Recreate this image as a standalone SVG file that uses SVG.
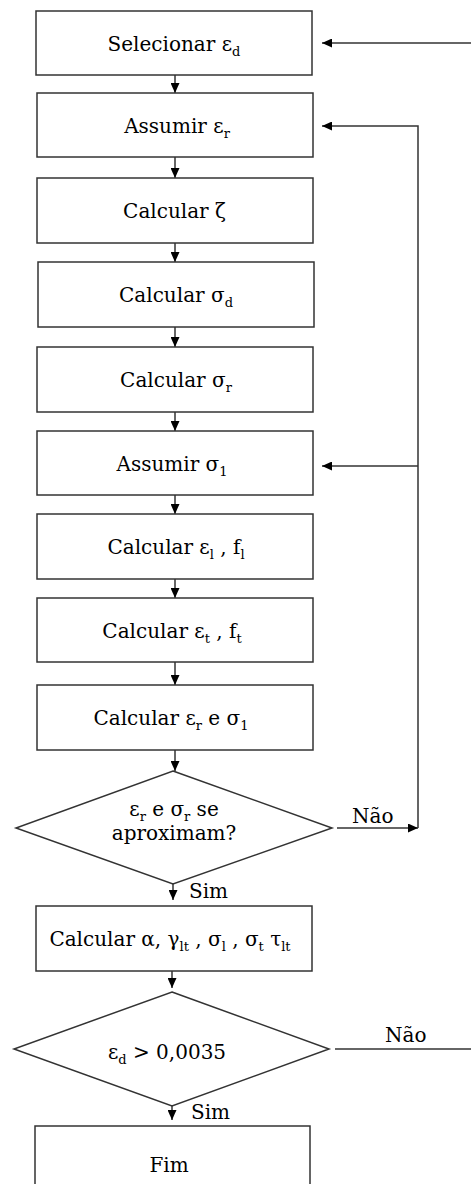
<svg xmlns="http://www.w3.org/2000/svg" width="471" height="1184" viewBox="0 0 471 1184">
<style>
.box{fill:#fff;stroke:#333;stroke-width:1.5}
.t{font-family:'DejaVu Serif','Liberation Serif',serif;font-size:20px;fill:#000;text-anchor:middle}
.l{font-family:'DejaVu Serif','Liberation Serif',serif;font-size:20px;fill:#000}
.s{font-size:13px}
.c{fill:none;stroke:#333;stroke-width:1.5}
</style>
<defs>
<marker id="ah" markerUnits="userSpaceOnUse" markerWidth="10" markerHeight="9" refX="10" refY="4.5" orient="auto">
<path d="M0,0 L10,4.5 L0,9 z" fill="#000"/>
</marker>
</defs>
<rect width="471" height="1184" fill="#fff"/>
<g id="connectors">
<line class="c" x1="175" y1="75" x2="175" y2="93" marker-end="url(#ah)"/>
<line class="c" x1="175" y1="157" x2="175" y2="178" marker-end="url(#ah)"/>
<line class="c" x1="175" y1="243" x2="175" y2="262" marker-end="url(#ah)"/>
<line class="c" x1="175" y1="327" x2="175" y2="347" marker-end="url(#ah)"/>
<line class="c" x1="175" y1="412" x2="175" y2="431" marker-end="url(#ah)"/>
<line class="c" x1="175" y1="495" x2="175" y2="514" marker-end="url(#ah)"/>
<line class="c" x1="175" y1="579" x2="175" y2="598" marker-end="url(#ah)"/>
<line class="c" x1="175" y1="662" x2="175" y2="685" marker-end="url(#ah)"/>
<line class="c" x1="175" y1="750" x2="175" y2="771" marker-end="url(#ah)"/>
<line class="c" x1="173" y1="884" x2="173" y2="900" marker-end="url(#ah)"/>
<line class="c" x1="172" y1="971" x2="172" y2="988" marker-end="url(#ah)"/>
<line class="c" x1="172" y1="1106" x2="172" y2="1120" marker-end="url(#ah)"/>
<line class="c" x1="337" y1="828" x2="418" y2="828" marker-end="url(#ah)"/>
<polyline class="c" points="418,828 418,126 322,126" marker-end="url(#ah)"/>
<line class="c" x1="418" y1="466" x2="322" y2="466" marker-end="url(#ah)"/>
<line class="c" x1="335" y1="1049" x2="471" y2="1049"/>
<line class="c" x1="471" y1="43" x2="322" y2="43" marker-end="url(#ah)"/>
<text class="l" x="352" y="823">Não</text>
<text class="l" x="189" y="898">Sim</text>
<text class="l" x="385" y="1042">Não</text>
<text class="l" x="191" y="1119">Sim</text>
</g>
<g id="n1"><rect class="box" x="36" y="11" width="276" height="64"/>
<text class="t" x="174" y="50.5">Selecionar ε<tspan class="s" dy="5">d</tspan></text></g>
<g id="n2"><rect class="box" x="37" y="93" width="276" height="64"/>
<text class="t" x="177" y="133">Assumir ε<tspan class="s" dy="5">r</tspan></text></g>
<g id="n3"><rect class="box" x="37" y="178" width="276" height="65"/>
<text class="t" x="174.5" y="218">Calcular ζ</text></g>
<g id="n4"><rect class="box" x="38" y="262" width="276" height="65"/>
<text class="t" x="176" y="302">Calcular σ<tspan class="s" dy="5">d</tspan></text></g>
<g id="n5"><rect class="box" x="37" y="347" width="276" height="65"/>
<text class="t" x="176" y="387">Calcular σ<tspan class="s" dy="5">r</tspan></text></g>
<g id="n6"><rect class="box" x="37" y="431" width="276" height="64"/>
<text class="t" x="172" y="470.5">Assumir σ<tspan class="s" dy="5">1</tspan></text></g>
<g id="n7"><rect class="box" x="37" y="514" width="276" height="65"/>
<text class="t" x="176" y="554">Calcular ε<tspan class="s" dy="5">l</tspan><tspan dy="-5"> , f</tspan><tspan class="s" dy="5">l</tspan></text></g>
<g id="n8"><rect class="box" x="37" y="598" width="276" height="64"/>
<text class="t" x="172" y="638">Calcular ε<tspan class="s" dy="5">t</tspan><tspan dy="-5">  , f</tspan><tspan class="s" dy="5">t</tspan></text></g>
<g id="n9"><rect class="box" x="37" y="685" width="276" height="65"/>
<text class="t" x="171" y="725">Calcular ε<tspan class="s" dy="5">r</tspan><tspan dy="-5"> e σ</tspan><tspan class="s" dy="5">1</tspan></text></g>
<g id="d1"><polygon class="box" points="173,771 332,828 173,884 16,828"/>
<text class="t" x="174" y="816">ε<tspan class="s" dy="5">r</tspan><tspan dy="-5"> e σ</tspan><tspan class="s" dy="5">r</tspan><tspan dy="-5"> se</tspan></text>
<text class="t" x="174" y="840">aproximam?</text></g>
<g id="n10"><rect class="box" x="36" y="906" width="276" height="65"/>
<text class="t" x="170" y="946">Calcular α, γ<tspan class="s" dy="5">lt</tspan><tspan dy="-5"> , σ</tspan><tspan class="s" dy="5">l</tspan><tspan dy="-5"> , σ</tspan><tspan class="s" dy="5">t</tspan><tspan dy="-5"> τ</tspan><tspan class="s" dy="5">lt</tspan></text></g>
<g id="d2"><polygon class="box" points="172,992 329,1049 172,1106 14,1049"/>
<text class="t" x="167" y="1059">ε<tspan class="s" dy="5">d</tspan><tspan dy="-5"> &gt; 0,0035</tspan></text></g>
<g id="n11"><rect class="box" x="35" y="1126" width="275" height="70"/>
<text class="t" x="169" y="1172">Fim</text></g>
</svg>
